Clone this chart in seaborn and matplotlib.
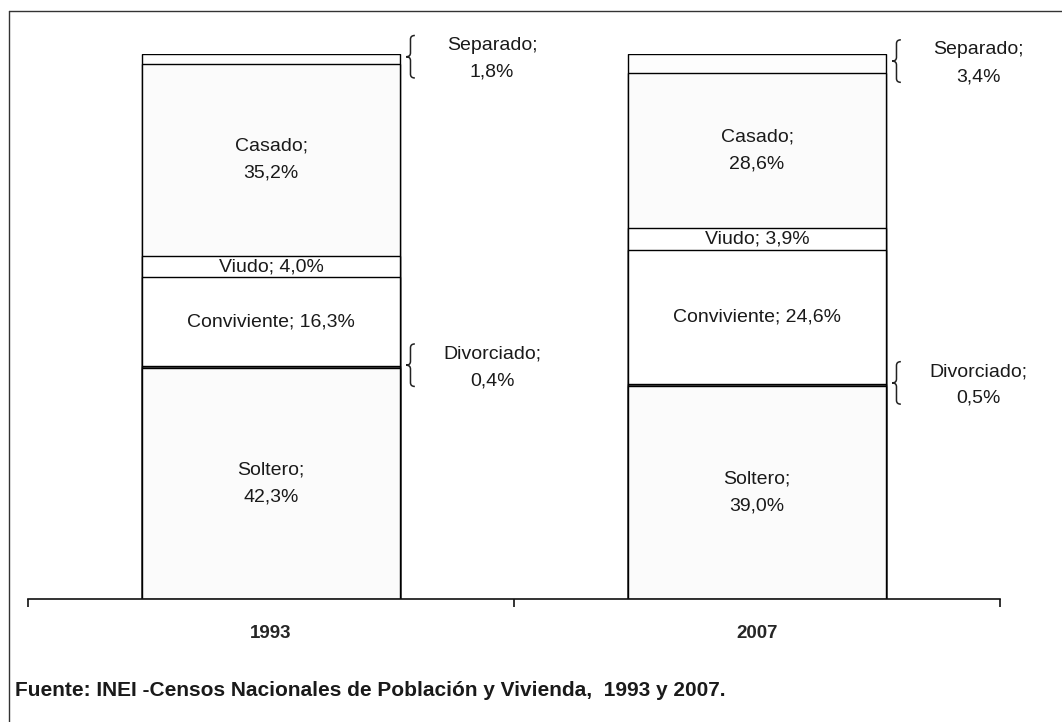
import numpy as np
import pandas as pd
import matplotlib
matplotlib.use('Agg')
import matplotlib.pyplot as plt
from matplotlib import font_manager
from matplotlib.lines import Line2D
from matplotlib.path import Path
from matplotlib.patches import PathPatch
import seaborn as sns

years = ['1993', '2007']
estados = ['Soltero', 'Divorciado', 'Conviviente', 'Viudo', 'Casado', 'Separado']
pct_1993 = [42.3, 0.4, 16.3, 4.0, 35.2, 1.8]
pct_2007 = [39.0, 0.5, 24.6, 3.9, 28.6, 3.4]
fills = ['#fbfbfb', '#4a4a4a', 'white', 'white', '#fbfbfb', '#fdfdfd']
# how each label is placed: two lines inside, one line inside, or beside with a brace
modo = ['dentro2', 'lado', 'dentro1', 'dentro1', 'dentro2', 'lado']
fuente = 'Fuente: INEI -Censos Nacionales de Población y Vivienda,  1993 y 2007.'

sns.set_style('white')
plt.rcParams['font.family'] = ['Liberation Sans', 'DejaVu Sans']
names = {f.name for f in font_manager.fontManager.ttflist}
narrow = 'Liberation Sans Narrow' if 'Liberation Sans Narrow' in names else 'Liberation Sans'


def fmt(v):
    return f'{v:.1f}'.replace('.', ',') + '%'


def brace(ax, cx, cy, w, h):
    # curly brace "{" with its point on the left
    r = 0.18 * h
    verts = [(cx + w / 2, cy + h), (cx, cy + h), (cx, cy + h - r),
             (cx, cy + r), (cx, cy), (cx - w / 2, cy),
             (cx, cy), (cx, cy - r),
             (cx, cy - h + r), (cx, cy - h), (cx + w / 2, cy - h)]
    codes = [Path.MOVETO, Path.CURVE3, Path.CURVE3,
             Path.LINETO, Path.CURVE3, Path.CURVE3,
             Path.CURVE3, Path.CURVE3,
             Path.LINETO, Path.CURVE3, Path.CURVE3]
    ax.add_patch(PathPatch(Path(verts, codes), fill=False, lw=1.1,
                           edgecolor='#222222', clip_on=False))


df = pd.DataFrame({
    'Año': np.repeat(years, len(estados)),
    'Estado': estados * 2,
    'pct': pct_1993 + pct_2007,
    'modo': modo * 2,
})
df['cum'] = df.groupby('Año')['pct'].cumsum()
df['base'] = df['cum'] - df['pct']

fig = plt.figure(figsize=(10.62, 7.22), dpi=100)
ax = fig.add_axes([28 / 1062, 1 - 599 / 722, 972 / 1062, 545 / 722])

# stacked look: draw cumulative totals from the top layer down
for est, col in reversed(list(zip(estados, fills))):
    sub = df[df['Estado'] == est]
    sns.barplot(data=sub, x='Año', y='cum', order=years, color=col,
                saturation=1, width=0.53, edgecolor='black', linewidth=1.0,
                errorbar=None, ax=ax)

for _, r in df.iterrows():
    xi = years.index(r['Año'])
    yc = r['base'] + r['pct'] / 2
    if r['modo'] == 'dentro2':
        ax.text(xi, yc, f"{r['Estado']};\n{fmt(r['pct'])}", ha='center', va='center',
                fontsize=14, color='#1a1a1a', linespacing=1.75)
    elif r['modo'] == 'dentro1':
        ax.text(xi, yc, f"{r['Estado']}; {fmt(r['pct'])}", ha='center', va='center',
                fontsize=14, color='#1a1a1a')
    else:
        brace(ax, xi + 0.287, yc + 0.4, 0.018, 3.9)
        ax.text(xi + 0.455, yc, f"{r['Estado']};\n{fmt(r['pct'])}", ha='center',
                va='center', fontsize=14, color='#1a1a1a', linespacing=1.75,
                clip_on=False)

ax.set_xlim(-0.5, 1.5)
ax.set_ylim(0, 100)
ax.set_xlabel('')
ax.set_ylabel('')
ax.set_yticks([])
for s in ['left', 'top', 'right']:
    ax.spines[s].set_visible(False)
ax.spines['bottom'].set_linewidth(1.2)
ax.spines['bottom'].set_color('#111111')
ax.set_xticks([0, 1])
ax.set_xticklabels(years, fontfamily=narrow, fontweight='bold', fontsize=13.5)
ax.set_xticks([-0.5, 0.5, 1.5], minor=True)
ax.tick_params(axis='x', which='major', bottom=False, length=0, pad=19)
ax.tick_params(axis='x', which='minor', bottom=True, length=6, width=1.2,
               direction='out', color='#111111')

fig.text(15 / 1062, 1 - 691 / 722, fuente, ha='left', va='center',
         fontfamily=narrow, fontweight='bold', fontsize=15, color='#1a1a1a')

# border of the original figure (top and left only visible)
fig.add_artist(Line2D([9 / 1062, 1], [1 - 11 / 722] * 2, transform=fig.transFigure,
                      color='#333333', lw=1.0))
fig.add_artist(Line2D([9 / 1062] * 2, [0, 1 - 11 / 722], transform=fig.transFigure,
                      color='#333333', lw=1.0))

fig.savefig('out.png', dpi=100)
